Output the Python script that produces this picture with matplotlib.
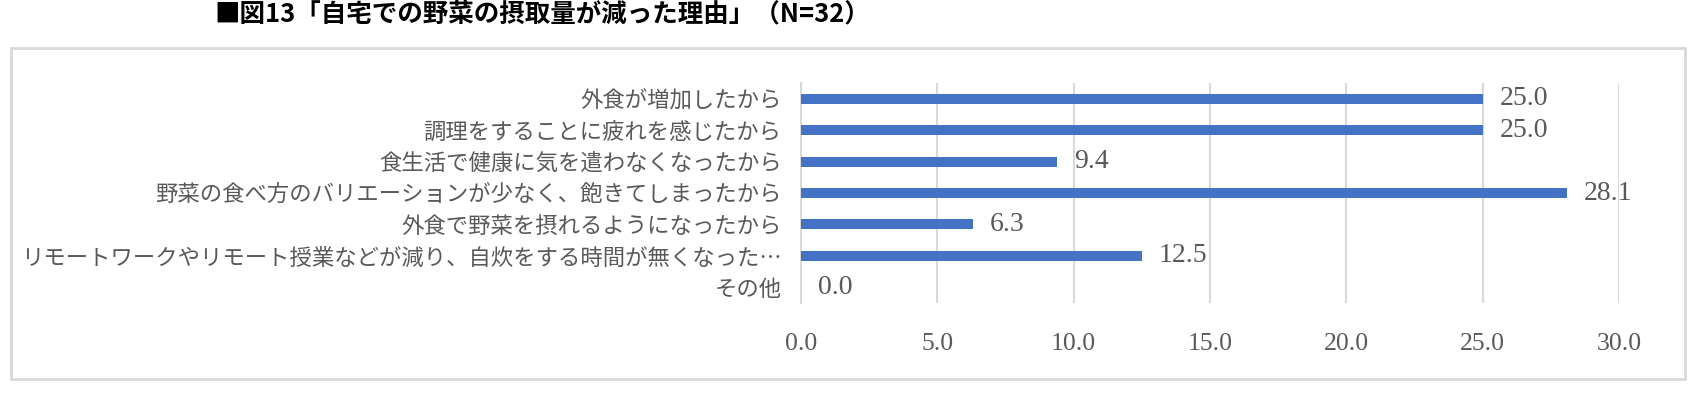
import matplotlib.pyplot as plt
from matplotlib.patches import Rectangle

plt.rcParams['font.family'] = ['Noto Sans CJK JP', 'DejaVu Sans']

categories = [
    "外食が増加したから",
    "調理をすることに疲れを感じたから",
    "食生活で健康に気を遣わなくなったから",
    "野菜の食べ方のバリエーションが少なく、飽きてしまったから",
    "外食で野菜を摂れるようになったから",
    "リモートワークやリモート授業などが減り、自炊をする時間が無くなった…",
    "その他",
]
values = [25.0, 25.0, 9.4, 28.1, 6.3, 12.5, 0.0]
xticks = [0, 5, 10, 15, 20, 25, 30]
title = "■図13「自宅での野菜の摂取量が減った理由」（N=32）"

BAR_COLOR = "#4472C4"
TEXT_GRAY = "#595959"
GRID_GRAY = "#d9d9d9"

fig = plt.figure(figsize=(17.06, 3.96), dpi=100)
ax = fig.add_axes([0.4695, 0.235, 0.4795, 0.555])

# outer chart frame
fig.patches.append(Rectangle((0.0064, 0.043), 0.981, 0.836, transform=fig.transFigure,
                             fill=False, edgecolor=GRID_GRAY, linewidth=2))

pos = list(range(len(categories)))
bars = ax.barh(pos, values, height=0.32, color=BAR_COLOR, zorder=3)
ax.bar_label(bars, labels=[f"{v:.1f}" for v in values], padding=12,
             fontsize=20, color=TEXT_GRAY, family="Liberation Serif")

ax.set_xlim(0, 30)
ax.set_ylim(-0.5, 6.5)
ax.invert_yaxis()
ax.set_xticks(xticks)
ax.set_xticklabels([f"{t:.1f}" for t in xticks], fontsize=18.5, color=TEXT_GRAY,
                   family="Liberation Serif")
ax.set_yticks(pos)
ax.set_yticklabels(categories, fontsize=16.1, color=TEXT_GRAY)
ax.tick_params(axis="both", length=0)
ax.tick_params(axis="x", pad=22)
ax.tick_params(axis="y", pad=14)

ax.grid(axis="x", color=GRID_GRAY, linewidth=1.5, zorder=0)
for side in ["top", "right", "bottom"]:
    ax.spines[side].set_visible(False)
ax.spines["left"].set_color(GRID_GRAY)
ax.spines["left"].set_linewidth(1.5)

fig.text(214 / 1706, 1 - 15 / 396, title, fontsize=18.4, fontweight="bold",
         ha="left", va="center", color="black")

fig.savefig("out.png", dpi=100)
